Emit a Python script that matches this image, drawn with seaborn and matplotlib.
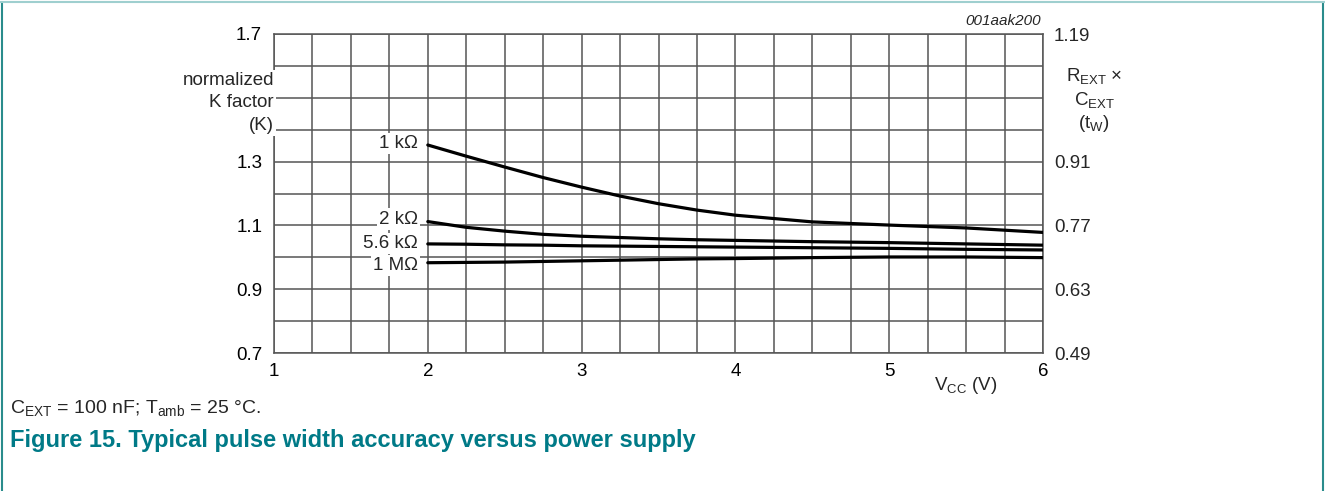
import numpy as np
import pandas as pd
import matplotlib
matplotlib.use("Agg")
import matplotlib.pyplot as plt
import seaborn as sns
from matplotlib.lines import Line2D

# supply voltage points and normalized K factor
vcc = [2.0, 2.25, 2.5, 2.75, 3.0, 3.25, 3.5, 3.75, 4.0, 4.5, 5.0, 5.5, 6.0]
k_1k = [1.352, 1.317, 1.283, 1.250, 1.220, 1.192, 1.168, 1.148, 1.132, 1.111, 1.101, 1.092, 1.078]
k_2k = [1.112, 1.094, 1.082, 1.072, 1.066, 1.062, 1.058, 1.055, 1.053, 1.049, 1.046, 1.042, 1.038]
k_5k6 = [1.042, 1.041, 1.039, 1.038, 1.036, 1.035, 1.034, 1.033, 1.032, 1.030, 1.028, 1.025, 1.023]
k_1M = [0.983, 0.984, 0.985, 0.987, 0.989, 0.991, 0.993, 0.995, 0.996, 0.999, 1.001, 1.001, 0.999]
curve_names = ["1 kΩ", "2 kΩ", "5.6 kΩ", "1 MΩ"]

left_ticks = [0.7, 0.9, 1.1, 1.3, 1.7]
right_ticks = [0.49, 0.63, 0.77, 0.91, 1.19]
x_ticks = [1, 2, 3, 4, 5, 6]

df = pd.DataFrame({
    "vcc": vcc * 4,
    "k": k_1k + k_2k + k_5k6 + k_1M,
    "curve": sum([[n] * len(vcc) for n in curve_names], []),
})

sns.set_style("white")
plt.rcParams['font.family'] = ['Liberation Sans', 'DejaVu Sans']
plt.rcParams['mathtext.fontset'] = 'custom'
plt.rcParams['mathtext.rm'] = 'Liberation Sans'
plt.rcParams['mathtext.it'] = 'Liberation Sans:italic'

FS = 13.5

fig = plt.figure(figsize=(13.25, 4.91), dpi=100)
ax = fig.add_axes([274 / 1325, 1 - 353 / 491, (1043 - 274) / 1325, (353 - 34) / 491])

sns.lineplot(data=df, x="vcc", y="k", units="curve", estimator=None,
             color="black", lw=2.3, ax=ax, legend=False, zorder=4)

ax.set_xlim(1, 6)
ax.set_ylim(0.7, 1.7)
ax.set_xticks(np.arange(1, 6.01, 0.25), minor=True)
ax.set_yticks(np.arange(0.7, 1.701, 0.1), minor=True)
ax.set_xticks(x_ticks)
ax.set_yticks(left_ticks)
ax.set_xticklabels([str(v) for v in x_ticks])
ax.set_yticklabels([f"{v:.1f}" for v in left_ticks])
ax.grid(which="both", color="#555555", lw=1.1)
ax.tick_params(which="both", length=0, labelsize=FS, colors="black")
ax.tick_params(axis="y", pad=8.5)
ax.tick_params(axis="x", pad=7)
for s in ax.spines.values():
    s.set_color("#555555")
    s.set_linewidth(1.1)
ax.set_xlabel("")
ax.set_ylabel("")

ax2 = ax.twinx()
ax2.set_ylim(0.49, 1.19)
ax2.set_yticks(right_ticks)
ax2.set_yticklabels([f"{v:.2f}" for v in right_ticks])
ax2.tick_params(length=0, labelsize=FS, pad=8)
for s in ax2.spines.values():
    s.set_visible(False)

box = dict(facecolor="white", edgecolor="none", pad=1.5)
ax.text(1.0, 1.484, "normalized\nK factor\n(K)", ha="right", va="center",
        fontsize=FS, linespacing=1.4, bbox=box, clip_on=False, zorder=6)
# curve labels at the start of each line
ax.text(1.936, 1.358, curve_names[0], ha="right", va="center", fontsize=FS, bbox=box, zorder=5)
ax.text(1.936, 1.120, curve_names[1], ha="right", va="center", fontsize=FS, bbox=box, zorder=5)
ax.text(1.936, 1.042, curve_names[2], ha="right", va="center", fontsize=FS, bbox=box, zorder=5)
ax.text(1.936, 0.973, curve_names[3], ha="right", va="center", fontsize=FS, bbox=box, zorder=5)

fig.text(1094 / 1325, 1 - 100 / 491, "R$_{\\mathrm{EXT}}$ ×\nC$_{\\mathrm{EXT}}$\n(t$_{\\mathrm{W}}$)",
         ha="center", va="center", fontsize=FS, linespacing=1.25)
fig.text(966 / 1325, 1 - 386 / 491, "V$_{\\mathrm{CC}}$ (V)", ha="center", va="center", fontsize=FS)
fig.text(1041 / 1325, 1 - 21 / 491, "001aak200", ha="right", va="center", fontsize=11, style="italic")

fig.text(10 / 1325, 1 - 408 / 491, "C$_{\\mathrm{EXT}}$ = 100 nF; T$_{\\mathrm{amb}}$ = 25 °C.",
         ha="left", va="center", fontsize=14)
fig.text(10 / 1325, 1 - 441 / 491, "Figure 15. Typical pulse width accuracy versus power supply",
         ha="left", va="center", fontsize=17, fontweight="bold", color="#007a87")

# page frame
fig.add_artist(Line2D([0.0015, 0.0015], [0, 0.996], transform=fig.transFigure, color="#2a8c8c", lw=1.5))
fig.add_artist(Line2D([0.9985, 0.9985], [0, 0.996], transform=fig.transFigure, color="#2a8c8c", lw=1.5))
fig.add_artist(Line2D([0, 1], [0.996, 0.996], transform=fig.transFigure, color="#9fcfcf", lw=1.5))

fig.savefig("out.png", dpi=100)
